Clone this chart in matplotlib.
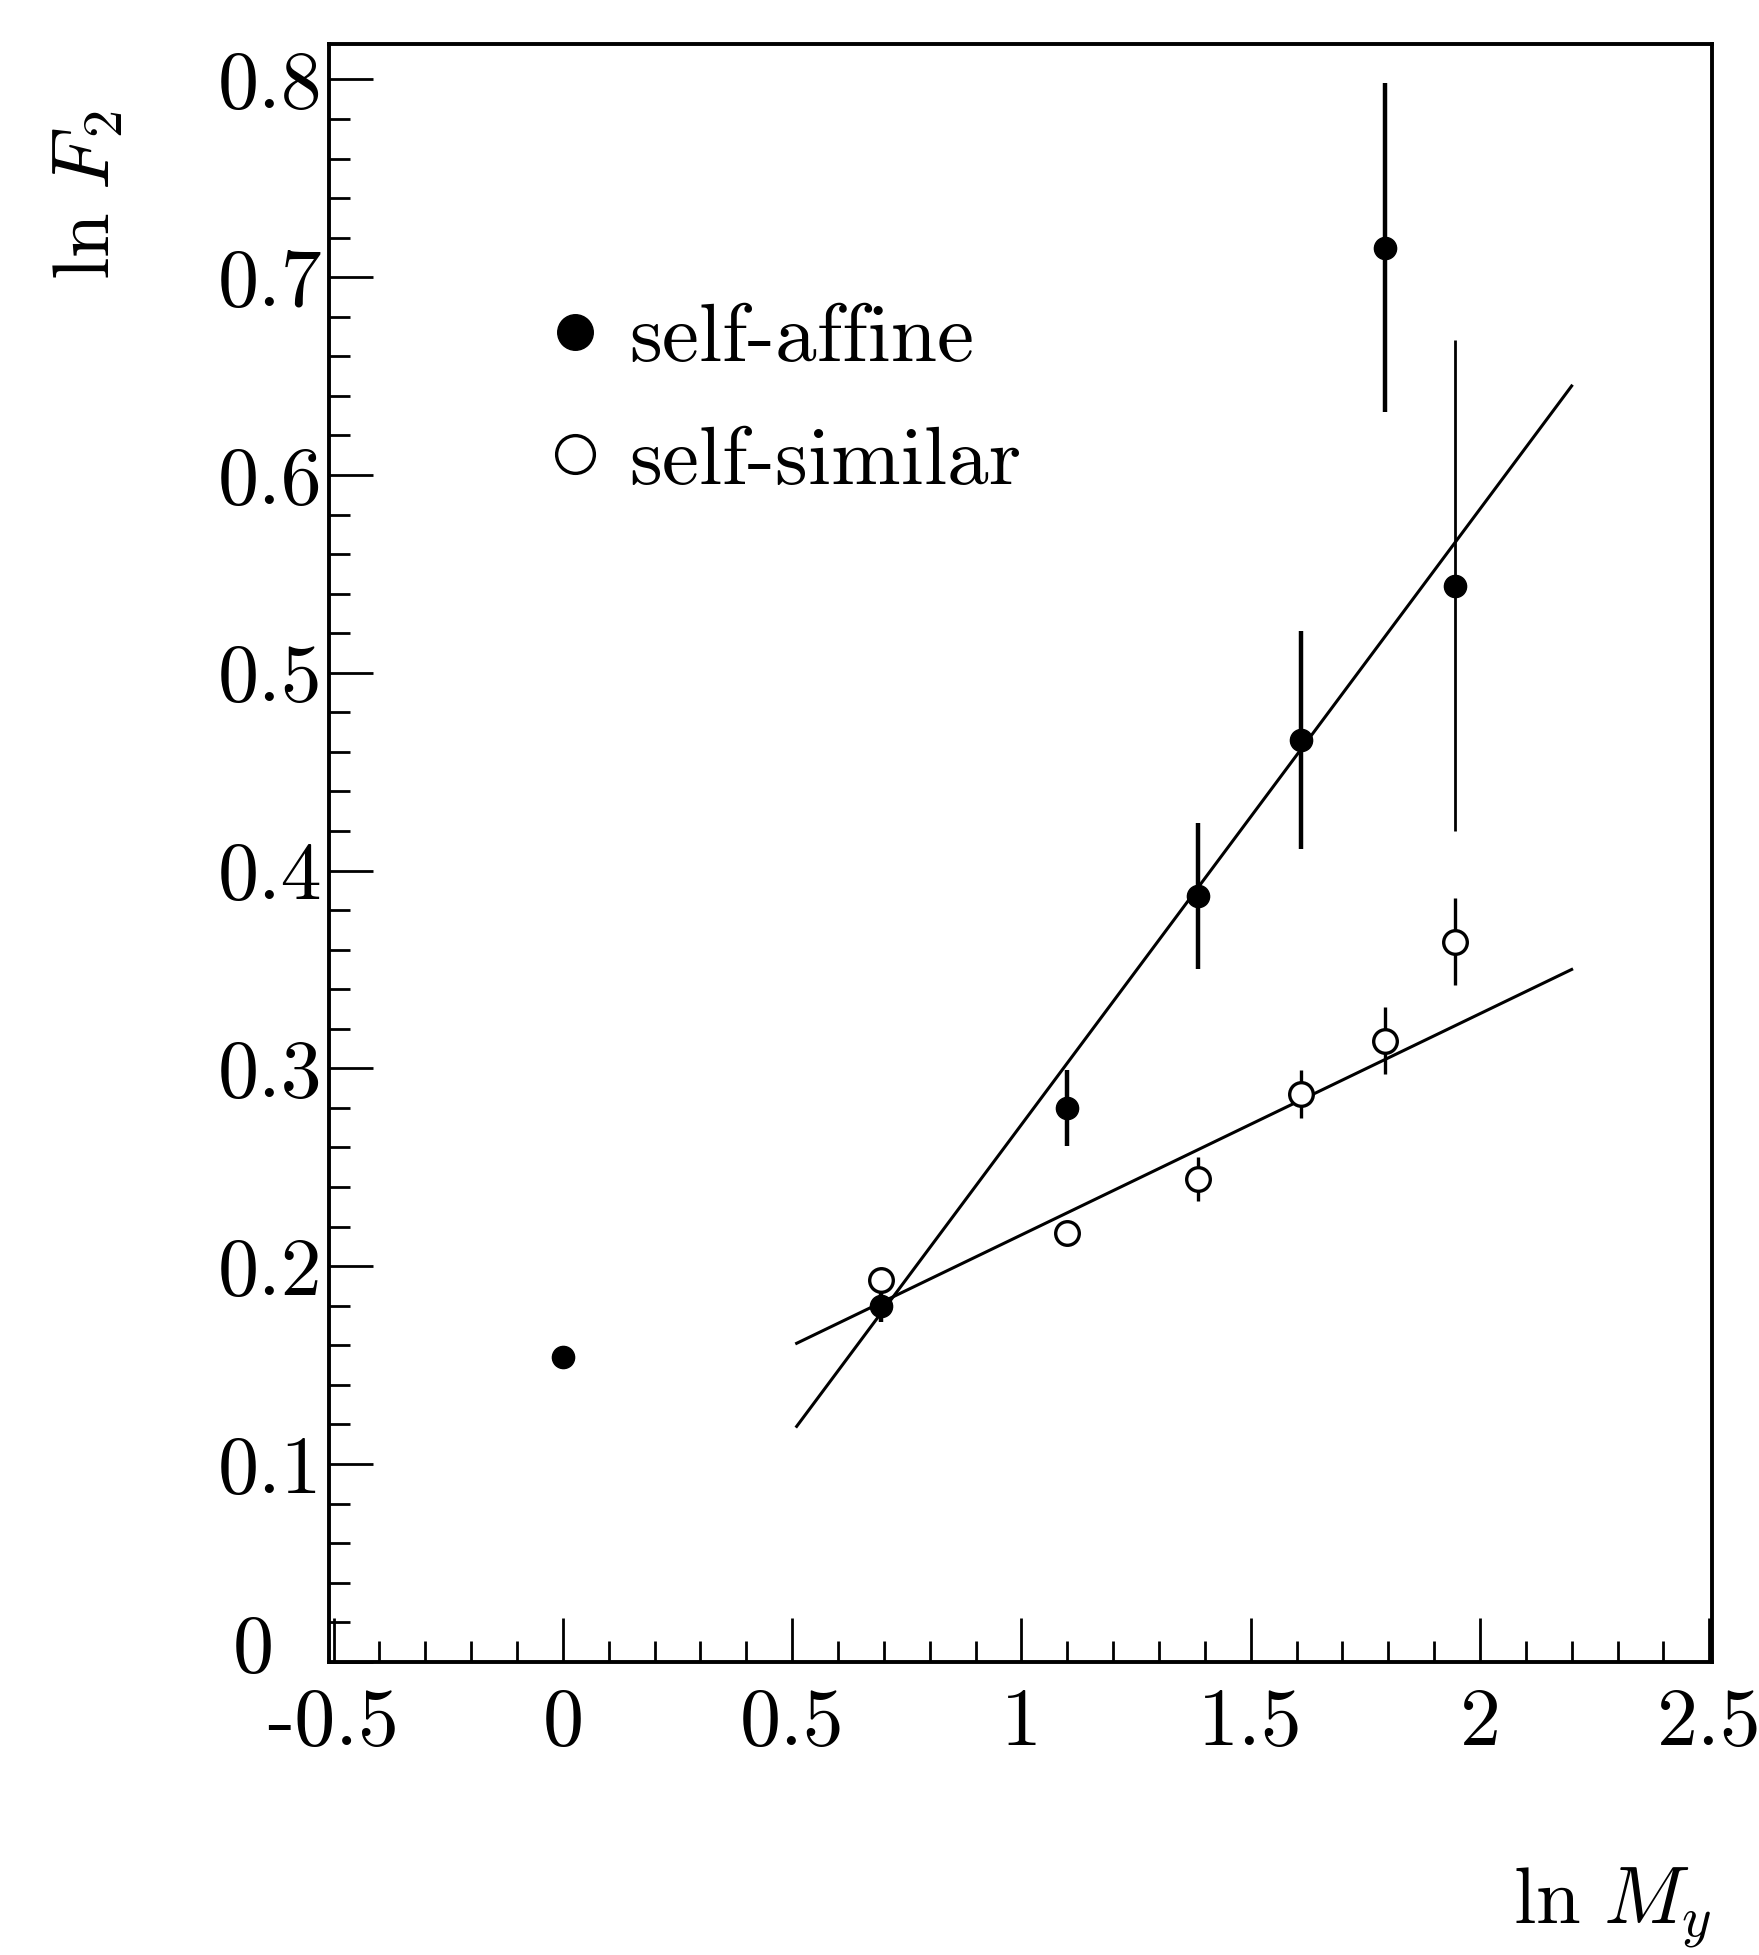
import matplotlib

matplotlib.use("Agg")
import matplotlib.pyplot as plt
import numpy as np
from matplotlib.ticker import FuncFormatter, MultipleLocator
from matplotlib.transforms import ScaledTranslation

# ln M_y for M = 1..7
LN_M = [0.0, 0.693, 1.099, 1.386, 1.609, 1.792, 1.946]

# self-affine (filled circles)
AFFINE = [0.154, 0.180, 0.280, 0.387, 0.466, 0.715, 0.544]
AFFINE_ERR = [0.0, 0.008, 0.019, 0.037, 0.055, 0.083, 0.124]

# self-similar (open circles), starts at M = 2
LN_M_SIM = [0.693, 1.099, 1.386, 1.609, 1.792, 1.946]
SIMILAR = [0.193, 0.217, 0.244, 0.287, 0.314, 0.364]
SIMILAR_ERR = [0.006, 0.0, 0.011, 0.012, 0.017, 0.022]

# straight-line fits (end points)
FIT_X = [0.51, 2.20]
AFFINE_FIT = [0.119, 0.645]
SIMILAR_FIT = [0.161, 0.350]

Y_TICKS = [0, 0.1, 0.2, 0.3, 0.4, 0.5, 0.6, 0.7, 0.8]

plt.rcParams.update({
    "font.family": "serif",
    "font.serif": ["cmr10"],
    "mathtext.fontset": "cm",
    "axes.unicode_minus": False,
})

fig = plt.figure(figsize=(17.59, 19.55), dpi=100)
ax = fig.add_axes([0.187, 0.150, 0.786, 0.8276])

ax.plot(FIT_X, AFFINE_FIT, color="black", lw=2.2, zorder=2)
ax.plot(FIT_X, SIMILAR_FIT, color="black", lw=2.2, zorder=2)

# error bars: the last self-affine bar is drawn thinner, as in the original
ax.errorbar(LN_M[:-1], AFFINE[:-1], yerr=AFFINE_ERR[:-1], fmt="none",
            ecolor="black", elinewidth=3.2, capsize=0, zorder=3)
ax.errorbar(LN_M[-1:], AFFINE[-1:], yerr=AFFINE_ERR[-1:], fmt="none",
            ecolor="black", elinewidth=2.0, capsize=0, zorder=3)
ax.errorbar(LN_M_SIM, SIMILAR, yerr=SIMILAR_ERR, fmt="none",
            ecolor="black", elinewidth=2.4, capsize=0, zorder=3)

h_aff, = ax.plot(LN_M, AFFINE, "o", color="black", ms=16, ls="none", zorder=4)
h_sim, = ax.plot(LN_M_SIM, SIMILAR, "o", mfc="white", mec="black", mew=2.4,
                 ms=17, ls="none", zorder=5)

ax.legend([h_aff, h_sim], ["self-affine", "self-similar"], loc="upper left",
          bbox_to_anchor=(0.156, 0.840), frameon=False, fontsize=60,
          markerscale=1.6, handlelength=0.72, handletextpad=0.30,
          labelspacing=0.58, borderpad=0, borderaxespad=0)

ax.set_xlim(-0.51, 2.505)
ax.set_ylim(0, 0.818)

ax.xaxis.set_major_locator(MultipleLocator(0.5))
ax.xaxis.set_minor_locator(MultipleLocator(0.1))
ax.set_yticks(Y_TICKS)
ax.yaxis.set_minor_locator(MultipleLocator(0.02))
fmt = FuncFormatter(lambda v, pos: f"{v:g}")
ax.xaxis.set_major_formatter(fmt)
ax.yaxis.set_major_formatter(fmt)

ax.tick_params(which="both", direction="in", top=False, right=False,
               width=2, labelsize=59)
ax.tick_params(which="major", length=32)
ax.tick_params(which="minor", length=15)
ax.tick_params(axis="x", which="major", pad=19)
ax.tick_params(axis="y", which="major", pad=5)

# the "0" on the y axis sits further left and a bit higher in the original
zero_label = ax.yaxis.get_major_ticks()[0].label1
zero_label.set_transform(zero_label.get_transform()
                         + ScaledTranslation(-0.48, 0.18, fig.dpi_scale_trans))

for sp in ax.spines.values():
    sp.set_linewidth(2.8)

ax.text(-0.174, 0.959, r"$\ln\,F_2$", rotation=90, ha="center", va="top",
        fontsize=58, transform=ax.transAxes)
ax.text(1.0, -0.178, r"$\ln\,M_y$", ha="right", va="bottom",
        fontsize=58, transform=ax.transAxes)

fig.savefig("out.png", dpi=100)
